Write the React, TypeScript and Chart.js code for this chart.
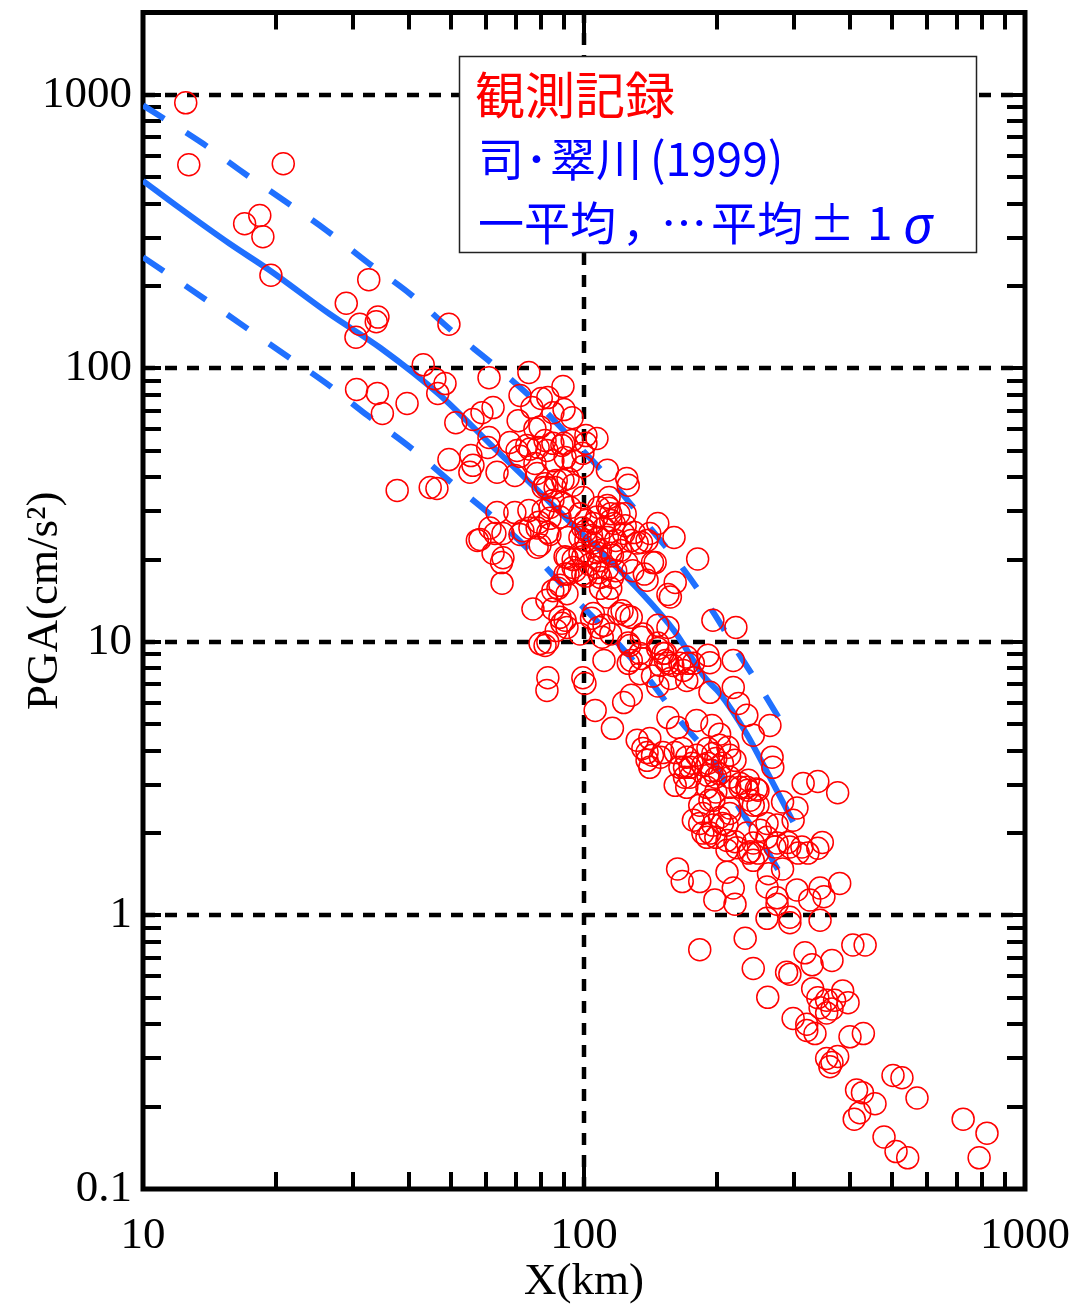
import React, { useEffect, useRef } from "react";
import { Chart, registerables } from "chart.js";

Chart.register(...registerables);

// ---- Observed records (distance X [km], PGA [cm/s^2]) ----
const obsX = [
  12.5, 12.7, 20.8, 17.0, 18.4, 18.7, 19.5, 28.9, 32.5, 31.0,
  30.4, 34.1, 33.8, 30.5, 34.0, 34.9, 39.7, 37.7, 44.8, 46.4,
  43.2, 49.4, 45.9, 48.4, 60.9, 75.0, 89.6, 46.6, 71.6, 82.8,
  76.2, 62.2, 58.7, 51.2, 56.0, 70.9, 85.0, 90.1, 94, 60.9,
  67.9, 77.4, 81.6, 85.0, 89.1, 94, 101, 107, 74.2, 70.5,
  78.7, 49.4, 55.4, 56.0, 60.5, 63.5, 69.7, 77.4, 85.0, 90.6,
  94.5, 99.4, 99.4, 113, 55.1, 81.6, 89.6, 86.0, 125, 99.4,
  114, 85.0, 89.6, 108, 113, 120, 63.5, 69.7, 75.0, 80.8,
  83.7, 97.9, 61.2, 62.8, 58.1, 65.5, 72.7, 78.3, 82.8, 92,
  99.4, 105, 108, 115, 124, 130, 135, 139, 147, 160,
  78.3, 62.2, 65.0, 91.5, 101, 105, 109, 115, 121, 129,
  118, 143, 181, 107, 94.5, 99.4, 92, 109, 115, 139,
  161, 157, 88.2, 91.5, 85.0, 82.4, 65.2, 76.6, 85.0, 89.1,
  88.2, 105, 108, 120, 125, 128, 136, 147, 155, 196,
  79.5, 81.6, 82.8, 97.9, 110, 115, 127, 134, 111, 128,
  147, 153, 153, 159, 191, 168, 177, 82.8, 99.4, 82.4,
  100.5, 106, 116, 91.5, 135, 135, 126, 151, 155, 147,
  157, 171, 172, 218, 218, 193, 224, 234, 242, 264,
  123, 128, 155, 163, 180, 195, 132, 141, 139, 141,
  149, 161, 167, 171, 169, 161, 171, 169, 174, 186,
  196, 203, 212, 206, 220, 195, 203, 214, 226, 183,
  193, 226, 235, 248, 238, 214, 206, 196, 177, 190,
  211, 211, 222, 234, 242, 236, 248, 260, 267, 268,
  282, 304, 298, 314, 339, 376, 260, 274, 293, 306,
  322, 347, 163, 167, 183, 211, 218, 220, 198, 260,
  274, 274, 304, 325, 343, 350, 380, 260, 293, 293,
  343, 232, 183, 242, 261, 317, 329, 365, 288, 293,
  330, 386, 339, 355, 370, 397, 343, 355, 365, 298,
  320, 320, 334, 401, 430, 355, 361, 376, 365, 407,
  434, 502, 526, 569, 415, 428, 422, 410, 457, 479,
  510, 542, 724, 820, 787, 193, 203, 136, 139, 143,
  151, 165, 176, 180, 191, 214, 199, 191, 174, 191,
  199, 236, 246, 197, 214, 242, 203, 211, 186, 199,
  274, 251, 312, 339, 190, 199, 214, 234, 248, 186,
  183, 193, 220, 238, 242, 271, 290, 262, 282, 80.8,
  94.5, 88.2, 93, 115, 124, 126, 101, 111, 117, 97.9,
  113, 118, 123, 132, 141, 83.7, 79.5, 94.5, 99.4, 103,
  108, 116, 125, 137, 145, 90.6, 95.5, 101, 108, 113,
  116, 87.3, 109, 113, 155, 122, 104, 90.6, 86.5, 111,
  126, 147, 149, 165, 171, 134, 143, 177, 221, 80,
  79.5, 90, 71.6, 75.4, 82.4, 101, 78.3, 82.4, 86.5, 92,
  83.7, 79, 75.4, 101, 107, 114, 57.3, 71.6, 104, 128,
  65.5, 90.6, 97.9, 107,
];

const obsPGA = [
  935, 555, 560, 338, 362, 303, 219, 173, 211, 145,
  130, 154, 148, 83.7, 81, 68.4, 74.4, 35.8, 36.7, 36.4,
  103, 145, 91.7, 88, 92.5, 96.6, 85.8, 81, 79.6, 78.2,
  71.9, 71.9, 68.9, 63.3, 65.0, 64.4, 68.9, 70.7, 66, 55.9,
  53.6, 60.2, 54.5, 53.2, 52.3, 54.5, 56.8, 55.4, 52.3, 50.1,
  51.4, 46.4, 48.0, 44.2, 51.4, 41.7, 40.6, 44.9, 46.0, 47.2,
  46.0, 48.9, 43.8, 42.4, 41.7, 37.9, 38.9, 36.7, 39.6, 33.7,
  33.7, 32.9, 32.1, 31.0, 31.5, 29.4, 29.7, 29.7, 30.2, 30.2,
  28.3, 29.4, 26.1, 24.9, 23.7, 24.9, 25.5, 26.1, 25.1, 24.1,
  26.1, 27.1, 24.1, 27.8, 26.6, 25.1, 23.1, 23.5, 27.1, 24.1,
  22.2, 21.1, 19.5, 20.3, 23.5, 23.0, 21.6, 21.1, 21.6, 18.2,
  18.2, 19.5, 20.1, 18.7, 18.7, 17.7, 17.7, 17.2, 15.7, 16.8,
  16.5, 14.6, 16.1, 15.0, 15.4, 14.2, 16.4, 13.2, 13.2, 11.7,
  12.3, 12.7, 11.3, 12.7, 12.5, 12.3, 10.7, 11.5, 11.3, 12.0,
  9.86, 9.7, 10.0, 10.7, 10.4, 10.7, 9.7, 9.08, 8.56, 8.56,
  9.47, 9.1, 8.56, 8.2, 8.93, 7.87, 8.35, 7.4, 7.4, 6.65,
  7.05, 5.62, 4.83, 11.3, 10.4, 8.7, 8.35, 9.08, 8.35, 6.9,
  7.35, 7.23, 8.35, 8.56, 6.82, 6.54, 5.96, 5.39, 4.56, 4.95,
  6.0, 6.38, 5.29, 4.87, 5.16, 4.95, 4.37, 4.44, 3.94, 3.48,
  3.79, 3.94, 4.08, 3.79, 3.48, 2.99, 2.94, 3.2, 3.48, 3.55,
  3.91, 4.19, 4.12, 3.6, 3.69, 3.39, 3.3, 3.2, 3.04, 2.53,
  2.64, 2.94, 2.87, 2.87, 2.64, 2.36, 2.17, 2.14, 2.23, 1.93,
  1.88, 1.73, 1.77, 2.0, 1.84, 1.69, 1.69, 2.17, 3.79, 3.48,
  2.6, 2.47, 2.23, 3.04, 3.09, 2.81, 1.93, 1.84, 1.78, 1.69,
  1.69, 1.85, 1.48, 1.33, 1.33, 1.44, 1.26, 1.10, 1.14, 1.27,
  1.16, 1.10, 1.24, 1.14, 1.26, 1.17, 1.31, 0.976, 0.985, 0.94,
  0.96, 0.825, 0.75, 0.64, 0.502, 0.73, 0.66, 0.685, 0.62, 0.61,
  0.54, 0.53, 0.50, 0.49, 0.49, 0.48, 0.46, 0.44, 0.455, 0.42,
  0.40, 0.38, 0.37, 0.36, 0.37, 0.30, 0.28, 0.305, 0.29, 0.78,
  0.78, 0.26, 0.255, 0.215, 0.23, 0.225, 0.19, 0.18, 0.205, 0.155,
  0.137, 0.13, 0.18, 0.16, 0.13, 8.4, 4.6, 4.08, 3.69, 3.85,
  3.94, 3.48, 3.6, 3.85, 4.08, 3.85, 3.75, 3.6, 3.2, 3.25,
  3.2, 3.12, 2.9, 2.64, 2.47, 2.53, 2.28, 2.14, 2.0, 1.93,
  2.14, 2.05, 1.78, 1.76, 2.94, 2.83, 2.94, 2.94, 2.53, 2.36,
  2.17, 2.0, 1.86, 1.71, 1.59, 1.78, 1.85, 1.42, 1.48, 36.7,
  37.4, 28.6, 31.0, 29.4, 29.4, 37.4, 25.5, 26.1, 27.1, 24.1,
  24.1, 23.5, 24.9, 23.0, 24.9, 24.7, 22.6, 20.0, 20.5, 19.2,
  19.8, 20.7, 19.5, 17.7, 19.5, 17.7, 18.2, 17.4, 17.9, 18.5,
  17.2, 15.7, 15.7, 14.6, 14.9, 13.0, 12.2, 12.0, 11.0, 11.5,
  9.9, 9.9, 8.2, 8.35, 8.8, 7.65, 7.5, 7.4, 11.3, 77.6,
  61, 53.2, 47.7, 50.7, 50.1, 53.2, 41.3, 36.7, 38.9, 39.6,
  31.0, 27.4, 26.1, 27.8, 28.6, 30.8, 23.5, 24.7, 24.5, 23.5,
  20.3, 20.5, 21.1, 21.2,
];

// ---- Si & Midorikawa (1999): mean and mean ± 1σ ----
const meanX = [10, 12.1, 15.7, 19.4, 26.5, 34.5, 47.1, 61.2, 75.4, 97.9, 113, 160, 188, 203, 234, 264, 298];
const meanY = [485, 386, 286, 228, 158, 119, 80, 53, 38.2, 25.3, 20.3, 11.0, 7.4, 6.5, 4.6, 3.2, 2.2];

const upperX = [10, 13.7, 16.9, 21.2, 26.1, 32.4, 40.7, 50.2, 62.9, 77.4, 95.4, 116, 141, 167, 193, 222, 255, 290];
const upperY = [915, 662, 519, 404, 319, 243, 185, 137, 102, 76, 53.6, 38.3, 26.2, 18.7, 13.4, 9.31, 6.55, 4.64];

const lowerX = [10, 13.7, 16.9, 21.2, 26.1, 32.4, 40.7, 50.4, 62.9, 76.6, 94.5, 116, 141, 165, 196, 223, 254, 290];
const lowerY = [255, 181, 143, 111, 87.9, 67, 50.9, 37.9, 28.2, 21, 14.6, 10.4, 7.23, 5.16, 3.69, 2.53, 1.84, 1.27];

// ---- Axes ----
const xTickValues = [10, 20, 30, 40, 50, 60, 70, 80, 90, 100, 200, 300, 400, 500, 600, 700, 800, 900, 1000];
const xLabelValues = [10, 100, 1000];
const xGridValues = [100];
const yTickValues = [
  0.1, 0.2, 0.3, 0.4, 0.5, 0.6, 0.7, 0.8, 0.9,
  1, 2, 3, 4, 5, 6, 7, 8, 9,
  10, 20, 30, 40, 50, 60, 70, 80, 90,
  100, 200, 300, 400, 500, 600, 700, 800, 900,
  1000, 2000,
];
const yLabelValues = [0.1, 1, 10, 100, 1000];
const yGridValues = [1, 10, 100, 1000];

// legend text pieces: [text, colour, font, x offset from box left, y offset from box top, baseline]
const CJK = '"Noto Sans CJK JP"';
const legendPieces: [string, string, string, number, number, string][] = [
  ["観測記録", "#ff0000", `50px ${CJK}`, 16, 39, "middle"],
  ["司", "#0000ff", `46px ${CJK}`, 19, 103, "middle"],
  ["･", "#0000ff", `46px ${CJK}`, 66, 103, "middle"],
  ["翠川", "#0000ff", `46px ${CJK}`, 91, 103, "middle"],
  ["(1999)", "#0000ff", `46px ${CJK}`, 191, 103, "middle"],
  ["一平均", "#0000ff", `46px ${CJK}`, 19, 167, "middle"],
  ["，", "#0000ff", `46px ${CJK}`, 163, 167, "middle"],
  ["…", "#0000ff", `46px ${CJK}`, 202, 167, "middle"],
  ["平均", "#0000ff", `46px ${CJK}`, 252, 167, "middle"],
  ["±", "#0000ff", `46px ${CJK}`, 350, 167, "middle"],
  ["1", "#0000ff", `46px ${CJK}`, 408, 167, "middle"],
  ["σ", "#0000ff", 'italic 52px "Noto Sans"', 444, 187, "alphabetic"],
];

const BLUE = "rgb(32,112,255)";
const SERIF = '"Liberation Serif", "Times New Roman", serif';

const framePlugin = {
  id: "frame",
  beforeDatasetsDraw(chart: any) {
    const { ctx, chartArea, scales } = chart;
    const { left, right, top, bottom } = chartArea;
    const x = scales.x;
    const y = scales.y;
    ctx.save();
    ctx.strokeStyle = "#000";
    // dashed grid at decades
    ctx.lineWidth = 4.5;
    ctx.setLineDash([12, 10]);
    ctx.beginPath();
    for (const v of xGridValues) {
      const px = Math.round(x.getPixelForValue(v));
      ctx.moveTo(px, bottom);
      ctx.lineTo(px, top);
    }
    for (const v of yGridValues) {
      const py = Math.round(y.getPixelForValue(v));
      ctx.moveTo(left, py);
      ctx.lineTo(right, py);
    }
    ctx.stroke();
    ctx.setLineDash([]);
    // inward ticks on all sides
    ctx.lineWidth = 4;
    ctx.beginPath();
    for (const v of xTickValues) {
      if (v === xTickValues[0] || v === xTickValues[xTickValues.length - 1]) continue;
      const px = Math.round(x.getPixelForValue(v));
      const len = xLabelValues.includes(v) ? 32 : 17;
      ctx.moveTo(px, bottom);
      ctx.lineTo(px, bottom - len);
      ctx.moveTo(px, top);
      ctx.lineTo(px, top + len);
    }
    for (const v of yTickValues) {
      if (v === yTickValues[0] || v === yTickValues[yTickValues.length - 1]) continue;
      const py = Math.round(y.getPixelForValue(v));
      ctx.moveTo(left, py);
      ctx.lineTo(left + 18, py);
      ctx.moveTo(right, py);
      ctx.lineTo(right - 18, py);
    }
    ctx.stroke();
    // frame
    ctx.lineWidth = 5;
    ctx.strokeRect(left, top, right - left, bottom - top);
    ctx.restore();
  },
  afterDraw(chart: any) {
    const { ctx } = chart;
    ctx.save();
    const bx = 459, by = 56, bw = 517, bh = 196;
    ctx.fillStyle = "#fff";
    ctx.fillRect(bx, by, bw, bh);
    ctx.strokeStyle = "#222";
    ctx.lineWidth = 1.5;
    ctx.strokeRect(bx + 0.5, by + 0.5, bw, bh);
    ctx.textAlign = "left";
    for (const [text, color, font, dx, dy, baseline] of legendPieces) {
      ctx.font = font;
      ctx.fillStyle = color;
      ctx.textBaseline = baseline;
      ctx.fillText(text, bx + dx, by + dy);
    }
    ctx.restore();
  },
};

export default function App() {
  const ref = useRef<HTMLCanvasElement>(null);

  useEffect(() => {
    const canvas = ref.current;
    if (!canvas) return;

    const toPoints = (xs: number[], ys: number[]) => xs.map((v, i) => ({ x: v, y: ys[i] }));
    const zeroPad = (s: any) => {
      s.paddingLeft = 0;
      s.paddingRight = 0;
      s.paddingTop = 0;
      s.paddingBottom = 0;
    };

    const chart = new Chart(canvas, {
      type: "scatter",
      data: {
        datasets: [
          {
            label: "観測記録",
            data: toPoints(obsX, obsPGA),
            showLine: false,
            pointStyle: "circle",
            pointRadius: 11,
            pointBorderWidth: 1.5,
            pointBorderColor: "#ff0000",
            pointBackgroundColor: "rgba(0,0,0,0)",
            order: 0,
          },
          {
            label: "平均",
            data: toPoints(meanX, meanY),
            showLine: true,
            borderColor: BLUE,
            borderWidth: 6,
            pointRadius: 0,
            cubicInterpolationMode: "monotone",
            borderCapStyle: "butt",
            order: 1,
          },
          {
            label: "平均+1σ",
            data: toPoints(upperX, upperY),
            showLine: true,
            borderColor: BLUE,
            borderWidth: 6,
            borderDash: [25, 26],
            pointRadius: 0,
            cubicInterpolationMode: "monotone",
            borderCapStyle: "butt",
            order: 1,
          },
          {
            label: "平均-1σ",
            data: toPoints(lowerX, lowerY),
            showLine: true,
            borderColor: BLUE,
            borderWidth: 6,
            borderDash: [25, 26],
            pointRadius: 0,
            cubicInterpolationMode: "monotone",
            borderCapStyle: "butt",
            order: 1,
          },
        ],
      },
      options: {
        responsive: false,
        maintainAspectRatio: false,
        animation: false,
        devicePixelRatio: 1,
        events: [],
        layout: { padding: { top: 10, right: 56, left: 0, bottom: 0 } },
        plugins: { legend: { display: false }, tooltip: { enabled: false } },
        scales: {
          x: {
            type: "logarithmic",
            position: "bottom",
            min: 10,
            max: 1000,
            grid: { display: false },
            border: { display: false },
            afterBuildTicks: (s: any) => {
              s.ticks = xTickValues.map((v) => ({ value: v }));
            },
            afterFit: (s: any) => {
              s.height = 118;
              zeroPad(s);
            },
            ticks: {
              autoSkip: false,
              maxRotation: 0,
              minRotation: 0,
              padding: 12,
              color: "#000",
              font: { family: SERIF, size: 45 },
              callback: (v: any) => (xLabelValues.includes(Number(v)) ? String(v) : null),
            },
            title: {
              display: true,
              text: "X(km)",
              color: "#000",
              font: { family: SERIF, size: 45, lineHeight: 1 },
              padding: { top: 0, bottom: 2 },
            },
          },
          y: {
            type: "logarithmic",
            position: "left",
            min: 0.1,
            max: 2000,
            grid: { display: false },
            border: { display: false },
            afterBuildTicks: (s: any) => {
              s.ticks = yTickValues.map((v) => ({ value: v }));
            },
            afterFit: (s: any) => {
              s.width = 143;
              zeroPad(s);
            },
            ticks: {
              autoSkip: false,
              padding: 3,
              color: "#000",
              font: { family: SERIF, size: 45 },
              callback: (v: any) => (yLabelValues.includes(Number(v)) ? String(v) : null),
            },
            title: {
              display: true,
              text: "PGA(cm/s²)",
              color: "#000",
              font: { family: SERIF, size: 45, lineHeight: 1 },
              padding: { top: 23, bottom: 0 },
            },
          },
        },
      },
      plugins: [framePlugin],
    } as any);

    return () => chart.destroy();
  }, []);

  return (
    <div style={{ position: "absolute", left: 0, top: 0, width: 1081, height: 1307, background: "#fff" }}>
      <canvas ref={ref} width={1081} height={1307} style={{ display: "block", width: 1081, height: 1307 }} />
    </div>
  );
}
